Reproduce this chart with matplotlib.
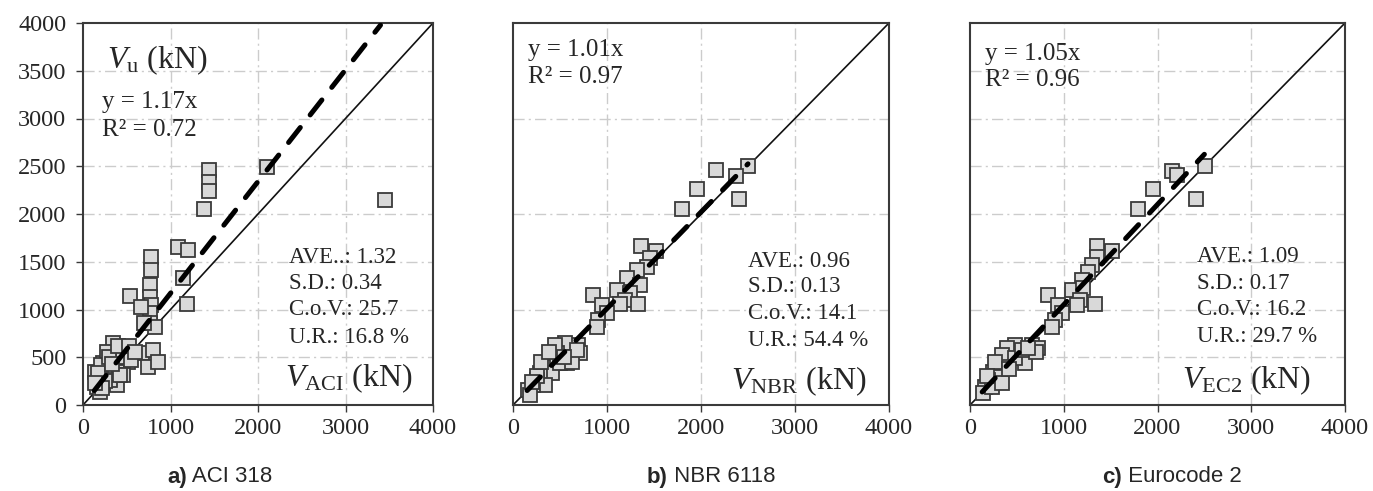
import matplotlib
matplotlib.use("Agg")
import matplotlib.pyplot as plt
import numpy as np

plt.rcParams['font.family'] = ['Liberation Serif', 'DejaVu Serif']
plt.rcParams['mathtext.fontset'] = 'custom'
plt.rcParams['mathtext.rm'] = 'Liberation Serif'
plt.rcParams['mathtext.it'] = 'Liberation Serif:italic'

# ACI 318 (x = V_ACI, y = V_u)
aci_x = [3451, 2099, 1444, 1444, 1444, 1383, 1089, 1203, 1139, 1185,
         775, 775, 770, 770, 775, 770, 765, 537, 663, 823, 700,
         347, 423, 480, 670, 803, 747, 861, 518, 366, 385, 385, 232, 251,
         175, 156, 194, 270, 461, 309, 461, 137, 549, 423, 200, 300, 250,
         220, 400, 520, 170, 590, 330, 140]
aci_y = [2147, 2495, 2461, 2339, 2244, 2049, 1658, 1623, 1333, 1054,
         1553, 1414, 1257, 1134, 1047, 960, 855, 1140, 1030, 820, 860,
         646, 593, 600, 541, 576, 401, 453, 453, 471, 349, 209, 436, 332,
         262, 192, 140, 558, 506, 262, 314, 349, 471, 314, 420, 500, 250,
         180, 620, 620, 330, 560, 430, 230]

# NBR 6118 (x = V_NBR, y = V_u)
nbr_x = [2503, 2372, 2160, 2408, 1954, 1794, 1358, 1521, 1457, 1422, 1316,
         1210, 1103, 1351, 1245, 1191, 1333, 1138, 848, 944, 997, 907, 890,
         695, 606, 553, 713, 465, 412, 376, 322, 571, 412, 287, 252, 340,
         216, 163, 181, 500, 624, 447, 678, 260, 300, 540, 200, 380]
nbr_y = [2503, 2401, 2461, 2154, 2258, 2049, 1665, 1616, 1536, 1448, 1414,
         1327, 1204, 1257, 1170, 1099, 1057, 1057, 1152, 1047, 960, 890, 820,
         628, 576, 646, 541, 541, 489, 436, 401, 436, 332, 332, 262, 209,
         209, 157, 105, 436, 453, 628, 576, 300, 450, 500, 240, 560]

# Eurocode 2 (x = V_EC2, y = V_u)
ec2_x = [2507, 2158, 2211, 2411, 1956, 1796, 1351, 1511, 1351, 1298, 1262,
         1191, 1084, 1209, 1173, 1333, 1138, 835, 942, 978, 907, 871,
         658, 729, 480, 391, 338, 587, 480, 356, 249, 302, 195, 160, 142,
         231, 338, 551, 700, 620, 270, 420, 180]
ec2_y = [2503, 2453, 2408, 2154, 2258, 2049, 1665, 1616, 1553, 1466, 1396,
         1309, 1204, 1222, 1099, 1057, 1047, 1152, 1047, 960, 890, 820,
         628, 593, 628, 593, 524, 436, 489, 401, 349, 297, 262, 192, 122,
         192, 227, 576, 560, 600, 450, 380, 300]

slopes = [1.17, 1.01, 1.05]
r2 = ["0.72", "0.97", "0.96"]
fit_range = [(130, 3400), (150, 2500), (130, 2500)]
stats = [["AVE..: 1.32", "S.D.: 0.34", "C.o.V.: 25.7", "U.R.: 16.8 %"],
         ["AVE.: 0.96", "S.D.: 0.13", "C.o.V.: 14.1", "U.R.: 54.4 %"],
         ["AVE.: 1.09", "S.D.: 0.17", "C.o.V.: 16.2", "U.R.: 29.7 %"]]
xlabels = [r"$V_{\rm ACI}$ (kN)", r"$V_{\rm NBR}$ (kN)", r"$V_{\rm EC2}$ (kN)"]
captions = [("a)", " ACI 318"), ("b)", " NBR 6118"), ("c)", " Eurocode 2")]

fig = plt.figure(figsize=(13.73, 4.91), dpi=100)
W, H = 1373, 491
boxes = [(83, 350), (513, 376), (970, 375)]
caption_x = [167, 647, 1102]
# where the texts sit, in axes fraction
eq_pos = [(0.053, 0.794, 0.72), (0.041, 0.929, 0.859), (0.040, 0.920, 0.851)]
st_pos = [(0.589, [0.387, 0.319, 0.249, 0.178]),
          (0.626, [0.375, 0.310, 0.240, 0.170]),
          (0.606, [0.388, 0.319, 0.249, 0.179])]
lab_pos = [(0.943, 0.07), (0.94, 0.061), (0.911, 0.065)]
ystep = [500, 1000, 500]

data = [(aci_x, aci_y), (nbr_x, nbr_y), (ec2_x, ec2_y)]
edge = '#3a3a3a'
txt = '#262626'

for i in range(3):
    left, w = boxes[i]
    ax = fig.add_axes([left / W, (491 - 405) / H, w / W, 382 / H])
    ax.set_xlim(0, 4000)
    ax.set_ylim(0, 4000)

    ax.set_xticks([0, 1000, 2000, 3000, 4000])
    ax.set_yticks(np.arange(0, 4001, ystep[i]))
    ax.tick_params(axis='x', labelsize=17.5, length=5, width=1, color=edge,
                   pad=4, labelcolor=txt)
    if i == 0:
        ax.tick_params(axis='y', labelsize=17.5, length=5, width=1, color=edge,
                       pad=7, labelcolor=txt)
    else:
        ax.tick_params(axis='y', length=0, labelleft=False)

    for g in range(1000, 4000, 1000):
        ax.axvline(g, color='#cccccc', lw=1, ls=(0, (8, 3, 1.5, 3)), zorder=0)
    for g in range(ystep[i], 4000, ystep[i]):
        ax.axhline(g, color='#cccccc', lw=1, ls=(0, (8, 3, 1.5, 3)), zorder=0)

    for s in ax.spines.values():
        s.set_color(edge)
        s.set_linewidth(1.5)

    ax.plot([0, 4000], [0, 4000], color='#111111', lw=1.2, zorder=2)

    x, y = data[i]
    ax.plot(x, y, ls='none', marker='s', ms=10.5, mfc='#d9d9d9', mec=edge,
            mew=1.3, zorder=3)

    x0, x1 = fit_range[i]
    ax.plot([x0, x1], [slopes[i] * x0, slopes[i] * x1], color='black',
            lw=3.6, ls=(0, (3.8, 3.2)), dash_capstyle='round', zorder=4)

    ex, ey1, ey2 = eq_pos[i]
    ax.text(ex, ey1, "y = %.2fx" % slopes[i], transform=ax.transAxes,
            fontsize=18, va='center', color=txt)
    ax.text(ex, ey2, "R² = " + r2[i], transform=ax.transAxes,
            fontsize=18, va='center', color=txt)

    sx, sys_ = st_pos[i]
    for t, yy in zip(stats[i], sys_):
        ax.text(sx, yy, t, transform=ax.transAxes, fontsize=16.5,
                va='center', color=txt)

    lx, ly = lab_pos[i]
    ax.text(lx, ly, xlabels[i], transform=ax.transAxes, fontsize=23,
            ha='right', va='center', color=txt)
    if i == 0:
        ax.text(0.069, 0.903, r"$V_{\rm u}$ (kN)", transform=ax.transAxes,
                fontsize=23, va='center', color=txt)

    b, rest = captions[i]
    t = fig.text(caption_x[i] / W, 1 - 477 / H, b, fontsize=16,
                 fontweight='bold', family='Liberation Sans', va='center',
                 color=txt)
    ax.annotate(rest, xy=(1, 0.5), xycoords=t, va='center', ha='left',
                fontsize=16, family='Liberation Sans', color=txt,
                annotation_clip=False)

fig.savefig("out.png", dpi=100)
